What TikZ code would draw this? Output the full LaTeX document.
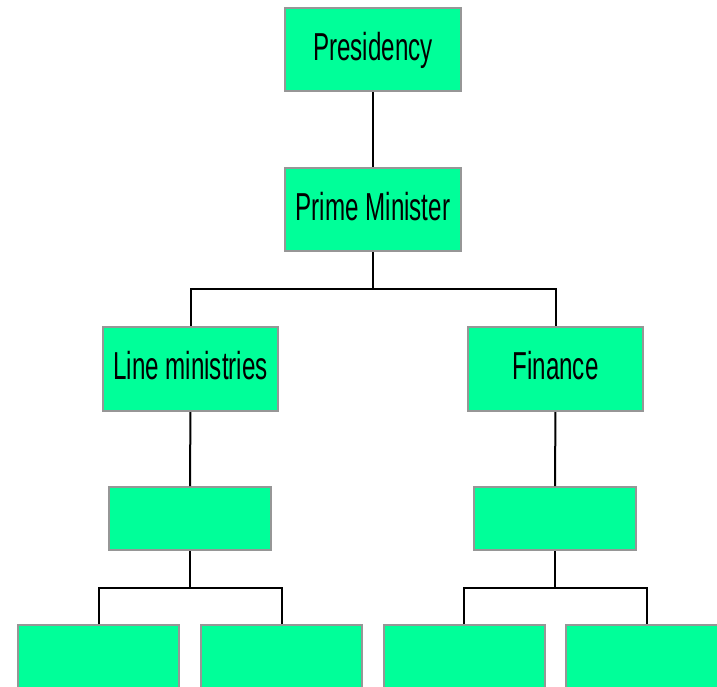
\documentclass[tikz,border=0pt]{standalone}
\usepackage{fontspec}
\setmainfont{Liberation Sans}[FakeStretch=0.62]
\definecolor{boxgreen}{RGB}{0,255,153}
\definecolor{boxedge}{RGB}{150,150,150}
\begin{document}
\begin{tikzpicture}[x=1pt,y=-1pt,
  orgbox/.style={draw=boxedge,line width=2pt,fill=boxgreen,inner sep=0pt,
    font=\fontsize{39}{44}\selectfont,text=black,text height=28pt,text depth=7pt},
  bigbox/.style={orgbox,minimum width=176pt,minimum height=83pt},
  smallbox/.style={orgbox,minimum width=162pt,minimum height=63pt},
  link/.style={draw=black,line width=2pt}]
\useasboundingbox (0,0) rectangle (717,686);
\clip (0,0) rectangle (717,686);
\node[bigbox] (pres) at (373,49.5) {Presidency};
\node[bigbox] (pm) at (373,209.5) {Prime Minister};
\node[bigbox,minimum width=175pt,minimum height=84pt] (line) at (190.5,369) {Line ministries};
\node[bigbox,minimum width=175pt,minimum height=84pt] (fin) at (555.5,369) {Finance};
\node[smallbox] (e1) at (190,518.5) {};
\node[smallbox] (e2) at (555,518.5) {};
\node[orgbox,minimum width=161pt,minimum height=90pt] (b1) at (98.5,670) {};
\node[orgbox,minimum width=161pt,minimum height=90pt] (b2) at (281.5,670) {};
\node[orgbox,minimum width=161pt,minimum height=90pt] (b3) at (464,670) {};
\node[orgbox,minimum width=161pt,minimum height=90pt] (b4) at (646.5,670) {};
\coordinate (j1) at (373,289);
\coordinate (j2) at (190,588);
\coordinate (j3) at (555,588);
\draw[link] (pres) -- (pm);
\draw[link] (pm) -- (j1);
\draw[link] (line.north) |- (j1) -| (fin.north);
\draw[link] (line) -- (e1);
\draw[link] (fin) -- (e2);
\draw[link] (e1) -- (j2);
\draw[link] (e2) -- (j3);
\draw[link] (b1.north) |- (j2) -| (b2.north);
\draw[link] (b3.north) |- (j3) -| (b4.north);
\end{tikzpicture}
\end{document}
